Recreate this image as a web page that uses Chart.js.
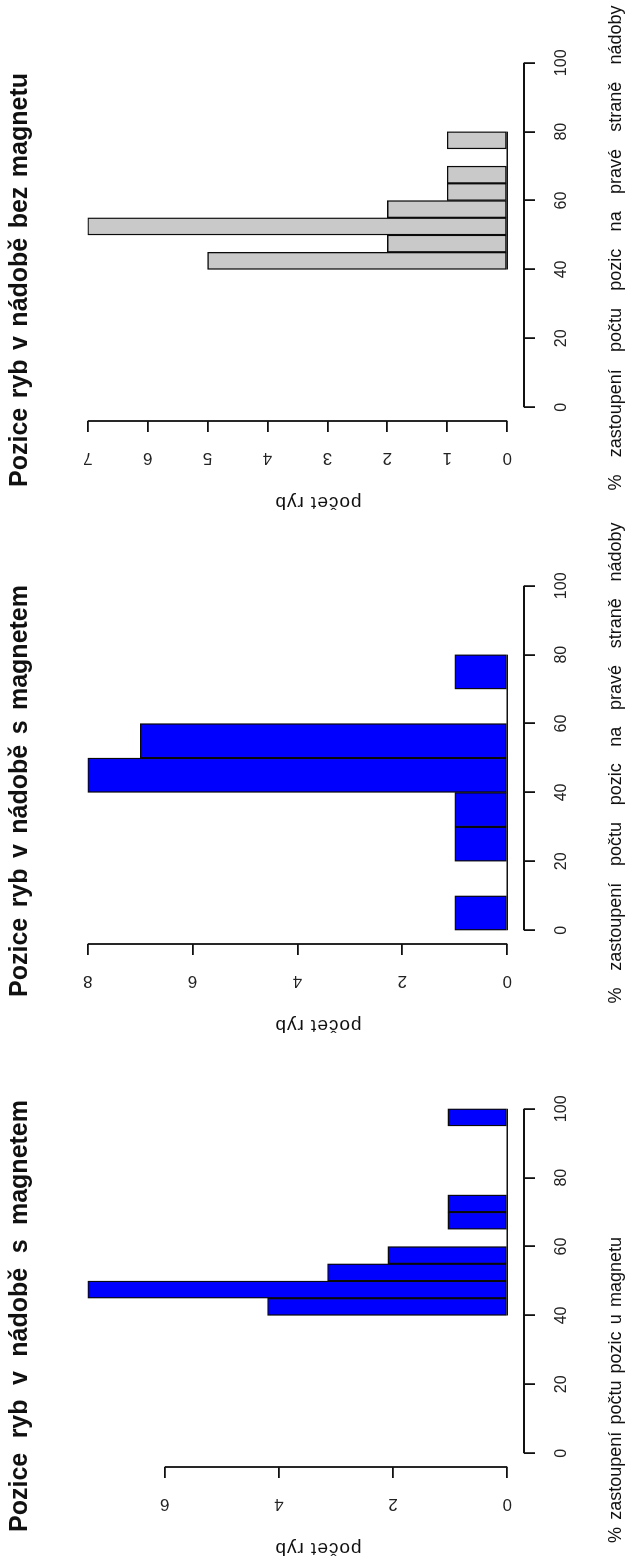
<!DOCTYPE html>
<html>
<head>
<meta charset="utf-8">
<script src="https://cdn.jsdelivr.net/npm/chart.js@4.4.1/dist/chart.umd.min.js"></script>
<style>
  body { margin: 0; background: #fff; overflow: hidden; }
  /* the figure is laid out landscape and then turned a quarter to the left */
  #stage { position: absolute; left: 0; top: 0; width: 1569px; height: 626px;
           display: flex; transform-origin: 0 0; transform: translateY(1562px) rotate(-90deg); }
  #stage canvas { display: block; width: 523px; height: 626px; }
</style>
</head>
<body>
<div id="stage">
  <canvas id="c1" width="523" height="626"></canvas>
  <canvas id="c2" width="523" height="626"></canvas>
  <canvas id="c3" width="523" height="626"></canvas>
</div>
<script>
const titles = ['Pozice ryb v nádobě s magnetem', 'Pozice ryb v nádobě s magnetem', 'Pozice ryb v nádobě bez magnetu'];
const xTitles = ['% zastoupení počtu pozic u magnetu',
                 '% zastoupení počtu pozic na pravé straně nádoby',
                 '% zastoupení počtu pozic na pravé straně nádoby'];
const yTitle = 'počet ryb';

// histogram bins: left edge of each bin (%) and number of fish
const bins1 = [40, 45, 50, 55, 60, 65, 70, 75, 80, 85, 90, 95];
const counts1 = [4.2, 7.35, 3.15, 2.09, 0, 1.04, 1.04, 0, 0, 0, 0, 1.04];
const bins2 = [0, 10, 20, 30, 40, 50, 60, 70];
const counts2 = [1, 0, 1, 1, 8, 7, 0, 1];
const bins3 = [40, 45, 50, 55, 60, 65, 70, 75];
const counts3 = [5, 2, 7, 2, 1, 1, 0, 1];

const xTicks = [0, 20, 40, 60, 80, 100];
const yTicks1 = [0, 2, 4, 6];
const yTicks2 = [0, 2, 4, 6, 8];
const yTicks3 = [0, 1, 2, 3, 4, 5, 6, 7];

const FONT = "'Liberation Sans', Arial, sans-serif";
Chart.defaults.font.family = FONT;

// text placement inside each panel (landscape coordinates)
const panels = [
  { id: 'c1', bins: bins1, counts: counts1, width: 5, yTicks: yTicks1, color: '#0000ff',
    title: titles[0], titleX: 246, titleW: 432, xTitle: xTitles[0], xTitleX: 172, xTitleW: 306 },
  { id: 'c2', bins: bins2, counts: counts2, width: 10, yTicks: yTicks2, color: '#0000ff',
    title: titles[1], titleX: 248, titleW: 412, xTitle: xTitles[1], xTitleX: 276, xTitleW: 481 },
  { id: 'c3', bins: bins3, counts: counts3, width: 5, yTicks: yTicks3, color: '#c9c9c9',
    title: titles[2], titleX: 236, titleW: 414, xTitle: xTitles[2], xTitleX: 268, xTitleW: 485 }
];

function fitText(ctx, text, cx, cy, w, font, rot, mode) {
  ctx.save();
  ctx.translate(cx, cy);
  if (rot) ctx.rotate(rot);
  ctx.font = font;
  ctx.fillStyle = '#111';
  ctx.textAlign = 'center';
  ctx.textBaseline = rot ? 'middle' : 'alphabetic';
  const w0 = ctx.measureText(text).width;
  const gaps = text.split(' ').length - 1;
  if (mode == 'letter') ctx.letterSpacing = ((w - w0) / (text.length - 1)) + 'px';
  else if (gaps > 0) ctx.wordSpacing = ((w - w0) / gaps) + 'px';
  ctx.fillText(text, 0, 0);
  ctx.restore();
}

// R style axes: lines only between first and last tick, plus the bin baseline
function rPlot(p) {
  return {
    id: 'rPlot',
    afterDatasetsDraw(chart) {
      const {ctx, chartArea, scales: {x, y}} = chart;
      const xt = x.ticks, yt = y.ticks;
      ctx.save();
      ctx.strokeStyle = '#111';
      ctx.lineWidth = 1.8;
      ctx.beginPath();
      ctx.moveTo(x.getPixelForValue(xt[0].value), chartArea.bottom);
      ctx.lineTo(x.getPixelForValue(xt[xt.length - 1].value), chartArea.bottom);
      ctx.moveTo(chartArea.left, y.getPixelForValue(yt[0].value));
      ctx.lineTo(chartArea.left, y.getPixelForValue(yt[yt.length - 1].value));
      ctx.stroke();
      const y0 = y.getPixelForValue(0);
      ctx.lineWidth = 1.5;
      ctx.beginPath();
      ctx.moveTo(x.getPixelForValue(p.bins[0]), y0);
      ctx.lineTo(x.getPixelForValue(p.bins[p.bins.length - 1] + p.width), y0);
      ctx.stroke();
      ctx.restore();

      fitText(ctx, p.title, p.titleX, 27, p.titleW, 'bold 25px ' + FONT, 0, 'word');
      fitText(ctx, p.xTitle, p.xTitleX, 621, p.xTitleW, '18px ' + FONT, 0, 'word');
      fitText(ctx, yTitle, 14, 318, 86, '19px ' + FONT, -Math.PI / 2, 'letter');
    }
  };
}

function makeChart(p) {
  const top = Math.max(...p.counts);
  return new Chart(document.getElementById(p.id), {
    type: 'bar',
    data: {
      datasets: [{
        data: p.bins.map((b, i) => ({ x: b + p.width / 2, y: p.counts[i] })),
        backgroundColor: p.color,
        borderColor: '#0a0a0a',
        borderWidth: 1.4,
        borderSkipped: false,
        barPercentage: 1,
        categoryPercentage: 1
      }]
    },
    options: {
      responsive: false,
      animation: false,
      devicePixelRatio: 1,
      layout: { padding: { top: 71, right: 56, bottom: 0, left: 0 } },
      plugins: { legend: { display: false }, tooltip: { enabled: false }, title: { display: false } },
      scales: {
        x: {
          type: 'linear',
          offset: false,
          min: -4, max: 104,
          afterBuildTicks: s => { s.ticks = xTicks.map(v => ({ value: v })); },
          afterFit: s => { s.height = 102; },
          grid: { offset: false, drawOnChartArea: false, drawTicks: true, tickLength: 11, color: '#111', lineWidth: 1.8 },
          border: { display: false },
          ticks: { autoSkip: false, maxRotation: 0, padding: 17, color: '#222', font: { size: 16 } }
        },
        y: {
          min: -0.04 * top, max: 1.04 * top,
          afterBuildTicks: s => { s.ticks = p.yTicks.map(v => ({ value: v })); },
          afterFit: s => { s.width = 95; },
          grid: { drawOnChartArea: false, drawTicks: true, tickLength: 11, color: '#111', lineWidth: 1.8 },
          border: { display: false },
          ticks: { autoSkip: false, minRotation: 90, maxRotation: 90, crossAlign: 'center', padding: 21,
                   color: '#222', font: { size: 17 } }
        }
      }
    },
    plugins: [rPlot(p)]
  });
}

panels.forEach(makeChart);
</script>
</body>
</html>
